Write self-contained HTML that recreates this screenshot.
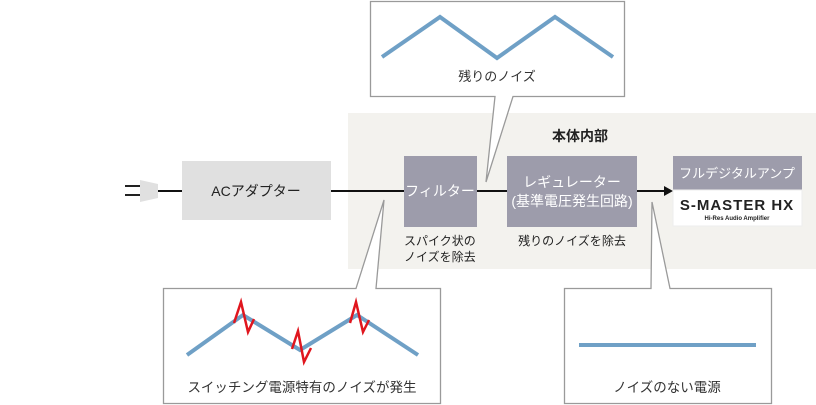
<!DOCTYPE html>
<html><head><meta charset="utf-8"><style>
html,body{margin:0;padding:0;background:#fff;}
svg{display:block;font-family:"Liberation Sans","Noto Sans CJK JP",sans-serif;}
</style></head><body>
<svg width="816" height="405" viewBox="0 0 816 405" xmlns="http://www.w3.org/2000/svg">
<rect x="348" y="113" width="468" height="156" fill="#f3f2ee"/>
<text x="580" y="141" font-size="14" font-weight="bold" fill="#222" text-anchor="middle">本体内部</text>
<line x1="125" y1="186" x2="140" y2="186" stroke="#222" stroke-width="2"/>
<line x1="125" y1="195" x2="140" y2="195" stroke="#222" stroke-width="2"/>
<polygon points="140,180 158,184 158,198 140,202" fill="#e0e0e0"/>
<line x1="158" y1="191" x2="182" y2="191" stroke="#111" stroke-width="2"/>
<rect x="182" y="161" width="149" height="59" fill="#e0e0e0"/>
<text x="256" y="196" font-size="14" fill="#222" text-anchor="middle">ACアダプター</text>
<line x1="331" y1="191" x2="404" y2="191" stroke="#111" stroke-width="2"/>
<rect x="404" y="156" width="73" height="71" fill="#9d9cab"/>
<text x="440" y="196" font-size="14" fill="#fff" text-anchor="middle">フィルター</text>
<line x1="477" y1="191" x2="507" y2="191" stroke="#111" stroke-width="2"/>
<rect x="507" y="156" width="130" height="71" fill="#9d9cab"/>
<text x="572" y="187" font-size="14" fill="#fff" text-anchor="middle">レギュレーター</text>
<text x="572" y="206" font-size="14" fill="#fff" text-anchor="middle">(基準電圧発生回路)</text>
<line x1="637" y1="191" x2="664" y2="191" stroke="#111" stroke-width="2"/>
<polygon points="664,186 673,191 664,196" fill="#111"/>
<rect x="673" y="156" width="129" height="34" fill="#9d9cab"/>
<rect x="673" y="190" width="129" height="36" fill="#fff" stroke="#eee"/>
<text x="737" y="178" font-size="13" fill="#fff" text-anchor="middle">フルデジタルアンプ</text>
<text x="737" y="210" font-size="15" font-weight="bold" fill="#222" text-anchor="middle" letter-spacing="1">S-MASTER HX</text>
<text x="737" y="220" font-size="6" font-weight="bold" fill="#222" text-anchor="middle">Hi-Res Audio Amplifier</text>
<text x="404" y="245" font-size="12" fill="#222">スパイク状の</text>
<text x="404" y="261" font-size="12" fill="#222">ノイズを除去</text>
<text x="572" y="245" font-size="12" fill="#222" text-anchor="middle">残りのノイズを除去</text>
<path d="M370.5,1.5 H624.5 V96.5 H513 L486,182 L495,96.5 H370.5 Z" fill="#fff" stroke="#9a9a9a" stroke-width="1.3"/>
<polyline points="382,57 440,17 497,58 555,17 613,57" fill="none" stroke="#6fa0c6" stroke-width="4"/>
<text x="497" y="81" font-size="13" fill="#333" text-anchor="middle">残りのノイズ</text>
<path d="M163.5,288.5 H356 L384,200 L376,288.5 H440.5 V403.5 H163.5 Z" fill="#fff" stroke="#9a9a9a" stroke-width="1.3"/>
<polyline points="187,355 243,315 300,350 357,315 418,355" fill="none" stroke="#6fa0c6" stroke-width="4"/>
<polyline points="234,323 241,302 248,332 254,319" fill="none" stroke="#e0161e" stroke-width="2.5"/>
<polyline points="292,349 298,331 304,362 311,348" fill="none" stroke="#e0161e" stroke-width="2.5"/>
<polyline points="350,323 356,302 363,332 369,320" fill="none" stroke="#e0161e" stroke-width="2.5"/>
<text x="302" y="392" font-size="13.5" fill="#333" text-anchor="middle">スイッチング電源特有のノイズが発生</text>
<path d="M564.5,288.5 H651 L652,202 L670,288.5 H771.5 V403.5 H564.5 Z" fill="#fff" stroke="#9a9a9a" stroke-width="1.3"/>
<line x1="579" y1="345" x2="756" y2="345" stroke="#6fa0c6" stroke-width="4"/>
<text x="667" y="392" font-size="13.5" fill="#333" text-anchor="middle">ノイズのない電源</text>
</svg>
</body></html>
